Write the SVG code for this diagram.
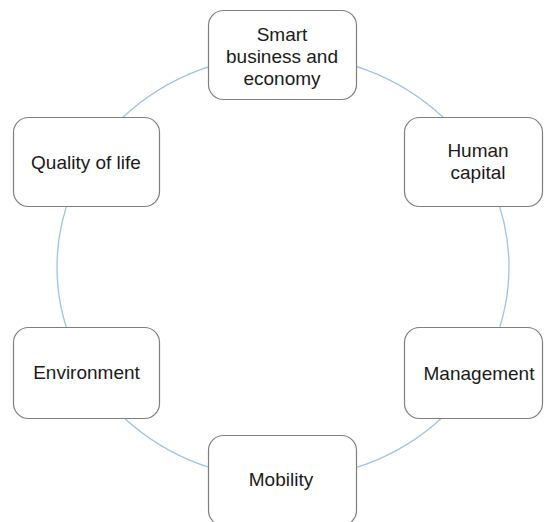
<svg xmlns="http://www.w3.org/2000/svg" width="544" height="522" viewBox="0 0 544 522">
<style>
.box{fill:#ffffff;stroke:#7f7f7f;stroke-width:1.2}
.lbl{font-family:"Liberation Sans",Arial,sans-serif;font-size:19px;fill:#1a1a1a;text-anchor:middle}
.ring{fill:none;stroke:#9dc3e6;stroke-width:1.3}
</style>
<rect width="544" height="522" fill="#ffffff"/>
<g id="connectors">
<ellipse class="ring" cx="283" cy="267" rx="226" ry="212"/>
</g>
<g id="node-smart">
<rect class="box" x="208.5" y="10.5" width="148" height="89" rx="15"/>
<text class="lbl" x="282" y="40.5">Smart</text>
<text class="lbl" x="282" y="62.5">business and</text>
<text class="lbl" x="282" y="84.5">economy</text>
</g>
<g id="node-human">
<rect class="box" x="404.5" y="117.5" width="138" height="89" rx="15"/>
<text class="lbl" x="478" y="157">Human</text>
<text class="lbl" x="478" y="179">capital</text>
</g>
<g id="node-quality">
<rect class="box" x="13.5" y="117.5" width="146" height="89" rx="15"/>
<text class="lbl" x="86" y="169">Quality of life</text>
</g>
<g id="node-environment">
<rect class="box" x="13.5" y="327.5" width="146" height="91" rx="15"/>
<text class="lbl" x="86.5" y="379">Environment</text>
</g>
<g id="node-management">
<rect class="box" x="404.5" y="327.5" width="138" height="91" rx="15"/>
<text class="lbl" x="479" y="380">Management</text>
</g>
<g id="node-mobility">
<rect class="box" x="208.5" y="435.5" width="148" height="90" rx="15"/>
<text class="lbl" x="281" y="486">Mobility</text>
</g>
</svg>
